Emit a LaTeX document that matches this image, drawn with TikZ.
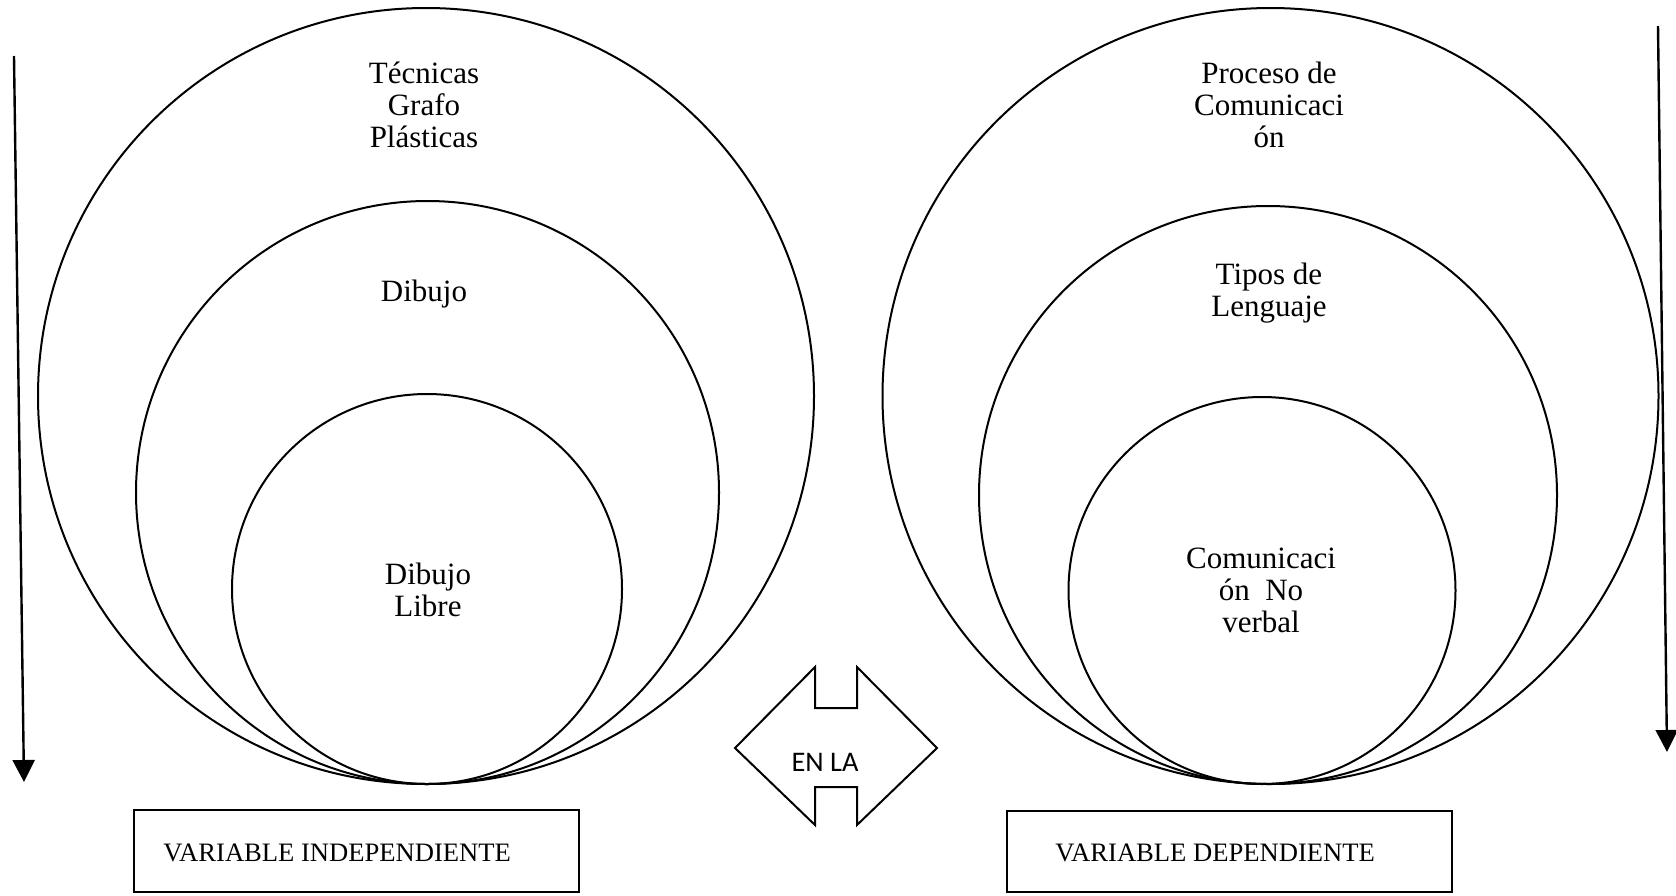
\documentclass[tikz,border=0pt]{standalone}
\usepackage{fontspec}
\setmainfont{Liberation Serif}
\newfontfamily\calib{Carlito}
\usetikzlibrary{arrows.meta}
\begin{document}
\begin{tikzpicture}[x=0.5pt,y=-0.5pt,
  ring/.style={line width=1pt},
  lbl/.style={align=center,font=\fontsize{15.5}{16}\selectfont,inner sep=0pt},
  boxtxt/.style={font=\fontsize{13.3}{15}\selectfont,inner sep=0pt,anchor=west},
  varbox/.style={draw,line width=1pt},
  sidearrow/.style={line width=1.2pt,-{Triangle[width=11pt,length=11pt]}}]
\useasboundingbox (0,0) rectangle (1676,895);
\fill[white] (0,0) rectangle (1676,895);
% left circles
\draw[ring] (426,396) circle[radius=388];
\draw[ring] (427.5,492.5) circle[radius=291.5];
\draw[ring] (427,589) circle[radius=195];
% right circles
\draw[ring] (1270.5,396) circle[radius=388];
\draw[ring] (1268,495) circle[radius=289];
\draw[ring] (1262,590.5) circle[radius=193.5];
% left texts
\node[lbl] (t1) at (424,105) {Técnicas\\Grafo\\Plásticas};
\node[lbl] (t2) at (424,294) {Dibujo};
\node[lbl] (t3) at (428,590) {Dibujo\\Libre};
% right texts
\node[lbl] (r1) at (1269,105) {Proceso de\\Comunicaci\\ón};
\node[lbl] (r2) at (1269,293) {Tipos de\\Lenguaje};
\node[lbl] (r3) at (1261,590) {Comunicaci\\ón~ No\\verbal};
% side arrows
\coordinate (la1) at (14,56);
\coordinate (la2) at (24,782);
\draw[sidearrow] (la1) -- (la2);
\coordinate (ra1) at (1658,26);
\coordinate (ra2) at (1667,752);
\draw[sidearrow] (ra1) -- (ra2);
% double arrow
\draw[line width=1pt,line join=miter] (735,748) -- (815,667) -- (815,708) -- (857,708) -- (857,667)
  -- (937,748) -- (857,825) -- (857,787) -- (815,787) -- (815,825) -- cycle;
\node[inner sep=0pt,font=\calib\fontsize{14.2}{16}\selectfont] (enla) at (825,762) {EN LA};
% boxes
\draw[varbox] (134,810) rectangle (579,892);
\node[boxtxt] (vi) at (163,853) {VARIABLE INDEPENDIENTE};
\draw[varbox] (1007,811) rectangle (1452,892);
\node[boxtxt] (vd) at (1055,853) {VARIABLE DEPENDIENTE};
\end{tikzpicture}
\end{document}
